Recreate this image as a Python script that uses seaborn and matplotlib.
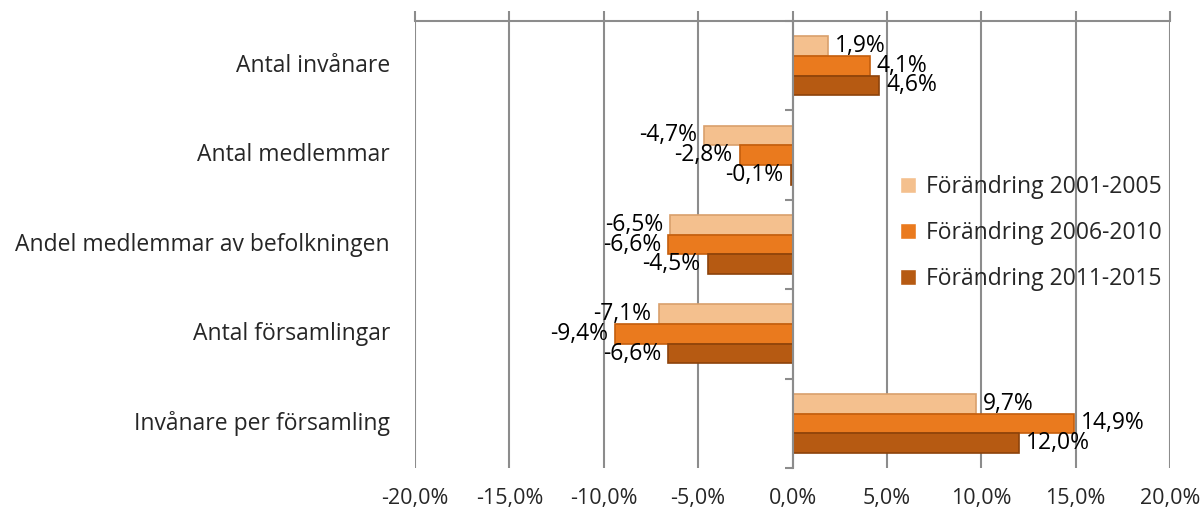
import numpy as np
import matplotlib.pyplot as plt
import matplotlib.transforms as mtransforms
import pandas as pd
import seaborn as sns

sns.set_theme(style='white')
plt.rcParams['font.family'] = ['Open Sans', 'DejaVu Sans']

# data
categories = ['Antal invånare', 'Antal medlemmar', 'Andel medlemmar av befolkningen',
              'Antal församlingar', 'Invånare per församling']
periods = ['Förändring 2001-2005', 'Förändring 2006-2010', 'Förändring 2011-2015']
change_2001_2005 = [1.9, -4.7, -6.5, -7.1, 9.7]
change_2006_2010 = [4.1, -2.8, -6.6, -9.4, 14.9]
change_2011_2015 = [4.6, -0.1, -4.5, -6.6, 12.0]
x_ticks = [-20, -15, -10, -5, 0, 5, 10, 15, 20]

colors = ['#f4c08e', '#ea7a1e', '#b65a12']
edges = ['#d9a06c', '#c45e0c', '#8c420a']

df = pd.DataFrame({
    'kategori': categories * 3,
    'period': np.repeat(periods, len(categories)),
    'värde': change_2001_2005 + change_2006_2010 + change_2011_2015,
})

fig = plt.figure(figsize=(12.03, 5.11), dpi=100)
ax = fig.add_axes([0.345, 0.084, 0.6276, 0.875])

sns.barplot(data=df, y='kategori', x='värde', hue='period', order=categories,
            hue_order=periods, palette=colors, orient='h', width=0.66,
            saturation=1, ax=ax, legend=True)

fmt = lambda v: f'{v:.1f}%'.replace('.', ',')
for cont, ec in zip(ax.containers, edges):
    for p in cont:
        p.set_edgecolor(ec)
        p.set_linewidth(1.2)
    ax.bar_label(cont, labels=[fmt(v) for v in cont.datavalues], padding=5,
                 fontsize=16.5, color='black')

ax.set_xlim(-20, 20)
ax.set_ylim(4.5, -0.5)
ax.set_xticks(x_ticks)
ax.set_xticklabels([fmt(v) for v in x_ticks], fontsize=15.5)
ax.set_xlabel('')
ax.set_ylabel('')

# x axis line at the top, labels at the bottom
ax.tick_params(axis='x', top=True, bottom=False, labeltop=False, labelbottom=True,
               direction='out', length=7, width=1.5, color='#8c8c8c', pad=7)
ax.grid(axis='x', color='#8c8c8c', linewidth=1.5)
ax.set_axisbelow(True)
for side in ['right', 'bottom']:
    ax.spines[side].set_visible(False)
ax.spines['top'].set_color('#8c8c8c')
ax.spines['top'].set_linewidth(1.5)

# category axis sits at 0
ax.spines['left'].set_position(('data', 0))
ax.spines['left'].set_color('#8c8c8c')
ax.spines['left'].set_linewidth(1.5)
ax.set_yticks([])
ax.set_yticks(np.arange(-0.5, 5, 1), minor=True)
ax.tick_params(axis='y', which='minor', left=True, length=6, width=1.5,
               color='#8c8c8c', direction='out')

trans = mtransforms.blended_transform_factory(ax.transAxes, ax.transData)
for i, cat in enumerate(categories):
    ax.text(-0.033, i, cat, transform=trans, ha='right', va='center', fontsize=16.5)

ax.legend(loc='upper left', bbox_to_anchor=(0.63, 0.675), frameon=False,
          fontsize=16.5, handlelength=0.7, handleheight=0.7, labelspacing=0.95,
          handletextpad=0.45, borderaxespad=0)

fig.savefig('out.png', dpi=100)
